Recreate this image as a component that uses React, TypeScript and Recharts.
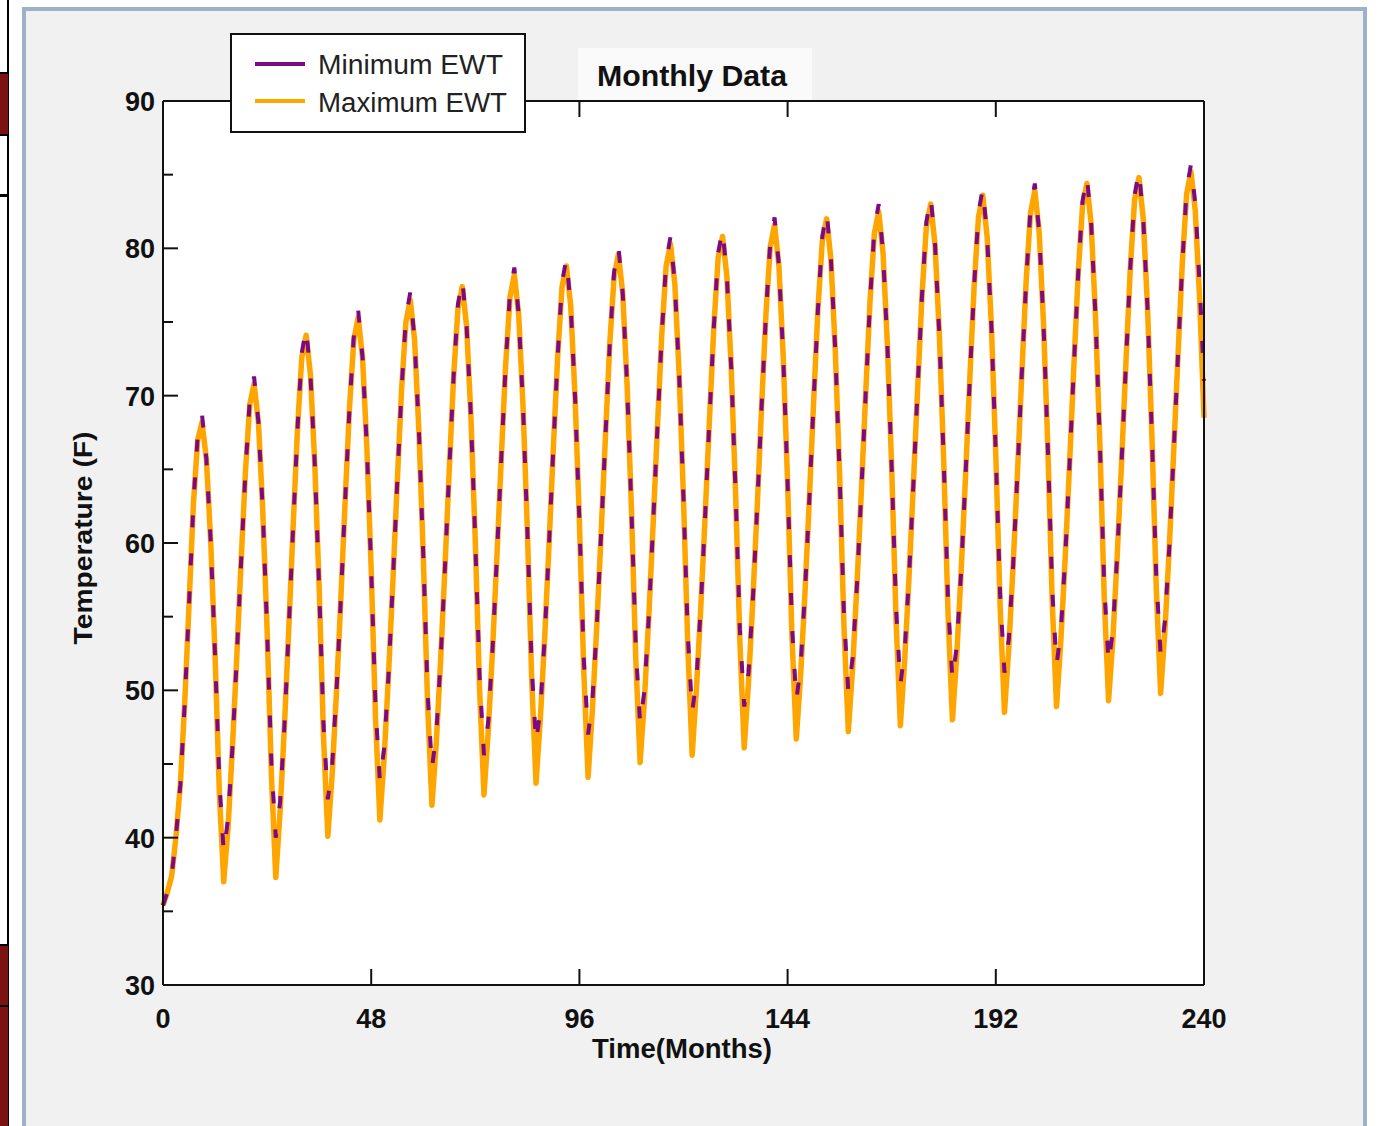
import React from "react";
import { LineChart, Line, XAxis, YAxis } from "recharts";

// monthly entering water temperature, months 0..240
const minEwt = [
  35.4, 36.3, 37.4, 40.1, 43.6, 49.1, 55.8, 62.6, 67.3, 68.7, 65.7, 60.1,
  52.4, 43.8, 39.0, 41.3, 46.1, 52.2, 58.7, 64.8, 69.7, 71.3, 68.2, 62.2,
  54.1, 45.0, 40.0, 42.4, 47.6, 54.2, 61.1, 67.7, 72.9, 74.6, 71.4, 65.3,
  57.0, 47.7, 42.6, 44.9, 49.9, 56.2, 62.9, 69.2, 74.1, 75.8, 72.6, 66.5,
  58.2, 48.9, 43.8, 46.1, 51.1, 57.4, 64.1, 70.4, 75.3, 77.0, 73.8, 67.6,
  59.2, 49.9, 44.7, 47.0, 52.0, 58.3, 65.0, 71.3, 76.2, 77.9, 74.7, 68.5,
  60.1, 50.8, 45.6, 47.9, 52.9, 59.2, 65.8, 72.1, 77.0, 78.7, 75.5, 69.3,
  60.9, 51.6, 46.4, 48.7, 53.6, 59.9, 66.5, 72.7, 77.7, 79.3, 76.1, 69.9,
  61.5, 52.2, 47.0, 49.3, 54.3, 60.6, 67.2, 73.5, 78.4, 80.1, 76.9, 70.7,
  62.3, 52.9, 47.7, 50.0, 55.0, 61.3, 67.9, 74.2, 79.1, 80.8, 77.6, 71.4,
  63.0, 53.7, 48.5, 50.8, 55.7, 61.9, 68.5, 74.7, 79.7, 81.3, 78.1, 71.9,
  63.5, 54.1, 48.9, 51.2, 56.2, 62.5, 69.2, 75.5, 80.4, 82.1, 78.8, 72.6,
  64.1, 54.5, 49.3, 51.6, 56.6, 62.9, 69.6, 75.9, 80.8, 82.5, 79.2, 73.0,
  64.6, 55.1, 49.9, 52.2, 57.2, 63.5, 70.1, 76.4, 81.3, 83.0, 79.7, 73.5,
  65.1, 55.6, 50.4, 52.7, 57.7, 64.0, 70.6, 76.9, 81.8, 83.5, 80.2, 74.0,
  65.5, 55.9, 50.7, 53.0, 58.0, 64.4, 71.1, 77.4, 82.4, 84.1, 80.8, 74.6,
  66.0, 56.5, 51.2, 53.5, 58.5, 64.8, 71.5, 77.8, 82.7, 84.4, 81.1, 74.9,
  66.4, 56.9, 51.7, 54.0, 59.0, 65.3, 72.0, 78.3, 83.2, 84.9, 81.6, 75.3,
  66.7, 57.1, 51.8, 54.1, 59.2, 65.5, 72.2, 78.6, 83.6, 85.3, 82.0, 75.8,
  67.2, 57.7, 52.4, 54.7, 59.7, 66.1, 72.7, 79.0, 84.0, 85.7, 83.0, 77.5,
  71.0,
];

const maxEwt = [
  35.4, 36.3, 37.4, 40.1, 43.6, 49.1, 55.8, 62.6, 67.0, 68.2, 65.7, 60.1,
  52.4, 43.0, 37.0, 40.7, 46.1, 52.2, 58.7, 64.8, 69.4, 70.8, 68.2, 62.2,
  54.1, 44.2, 37.3, 41.8, 47.6, 54.2, 61.1, 67.7, 72.6, 74.1, 71.4, 65.3,
  57.0, 46.9, 40.1, 44.3, 49.9, 56.2, 62.9, 69.2, 73.8, 75.3, 72.6, 66.5,
  58.2, 48.1, 41.2, 45.5, 51.1, 57.4, 64.1, 70.4, 75.0, 76.5, 73.8, 67.6,
  59.2, 49.1, 42.2, 46.4, 52.0, 58.3, 65.0, 71.3, 75.9, 77.4, 74.7, 68.5,
  60.1, 50.0, 42.9, 47.3, 52.9, 59.2, 65.8, 72.1, 76.7, 78.2, 75.5, 69.3,
  60.9, 50.8, 43.7, 48.1, 53.6, 59.9, 66.5, 72.7, 77.4, 78.8, 76.1, 69.9,
  61.5, 51.4, 44.1, 48.7, 54.3, 60.6, 67.2, 73.5, 78.1, 79.6, 76.9, 70.7,
  62.3, 52.1, 45.1, 49.4, 55.0, 61.3, 67.9, 74.2, 78.8, 80.3, 77.6, 71.4,
  63.0, 52.9, 45.6, 50.2, 55.7, 61.9, 68.5, 74.7, 79.4, 80.8, 78.1, 71.9,
  63.5, 53.3, 46.1, 50.6, 56.2, 62.5, 69.2, 75.5, 80.1, 81.6, 78.8, 72.6,
  64.1, 53.7, 46.7, 51.0, 56.6, 62.9, 69.6, 75.9, 80.5, 82.0, 79.2, 73.0,
  64.6, 54.3, 47.2, 51.6, 57.2, 63.5, 70.1, 76.4, 81.0, 82.5, 79.7, 73.5,
  65.1, 54.8, 47.6, 52.1, 57.7, 64.0, 70.6, 76.9, 81.5, 83.0, 80.2, 74.0,
  65.5, 55.1, 48.0, 52.4, 58.0, 64.4, 71.1, 77.4, 82.1, 83.6, 80.8, 74.6,
  66.0, 55.7, 48.5, 52.9, 58.5, 64.8, 71.5, 77.8, 82.4, 83.9, 81.1, 74.9,
  66.4, 56.1, 48.9, 53.4, 59.0, 65.3, 72.0, 78.3, 82.9, 84.4, 81.6, 75.3,
  66.7, 56.3, 49.3, 53.5, 59.2, 65.5, 72.2, 78.6, 83.3, 84.8, 82.0, 75.8,
  67.2, 56.9, 49.8, 54.1, 59.7, 66.1, 72.7, 79.0, 83.7, 85.2, 82.5, 76.5,
  68.5,
];

const xTicks = [0, 48, 96, 144, 192, 240];
const yTicks = [30, 35, 40, 45, 50, 55, 60, 65, 70, 75, 80, 85, 90];

const data = minEwt.map((v, i) => ({ month: i, min: v, max: maxEwt[i] }));

const FONT = "'Liberation Sans', Arial, sans-serif";
const INK = "#111";
const PURPLE = "#7d0a85";
const ORANGE = "#ffa500";

function LeftTick(props: any) {
  const { x, y, payload } = props;
  const major = payload.value % 10 === 0;
  return (
    <g>
      <line x1={x} y1={y} x2={x + (major ? 15 : 10)} y2={y} stroke={INK} strokeWidth={2} />
      {major && (
        <text x={x - 8} y={y + 10} textAnchor="end" fontFamily={FONT} fontWeight="bold" fontSize={27} fill={INK}>
          {payload.value}
        </text>
      )}
    </g>
  );
}

function RightTick(props: any) {
  const { x, y, payload } = props;
  const major = payload.value % 10 === 0;
  return <line x1={x} y1={y} x2={x - (major ? 15 : 10)} y2={y} stroke={INK} strokeWidth={2} />;
}

function BottomTick(props: any) {
  const { x, y, payload } = props;
  return (
    <g>
      <line x1={x} y1={y} x2={x} y2={y - 16} stroke={INK} strokeWidth={2} />
      <text x={x} y={y + 43} textAnchor="middle" fontFamily={FONT} fontWeight="bold" fontSize={27} fill={INK}>
        {payload.value}
      </text>
    </g>
  );
}

function TopTick(props: any) {
  const { x, y } = props;
  return <line x1={x} y1={y} x2={x} y2={y + 16} stroke={INK} strokeWidth={2} />;
}

function Frame() {
  return (
    <>
      <div style={{ position: "absolute", left: 0, top: 0, width: 9, height: 1126, background: "#fff", borderRight: "2px solid #000", boxSizing: "border-box" }} />
      <div style={{ position: "absolute", left: 0, top: 72, width: 8, height: 64, background: "#7c1212", borderTop: "2px solid #000", borderBottom: "2px solid #000", boxSizing: "border-box" }} />
      <div style={{ position: "absolute", left: 0, top: 194, width: 8, height: 3, background: "#000" }} />
      <div style={{ position: "absolute", left: 0, top: 944, width: 8, height: 182, background: "#7c1212", borderTop: "2px solid #000", boxSizing: "border-box" }} />
      <div style={{ position: "absolute", left: 0, top: 1005, width: 8, height: 2, background: "#000" }} />
      <div
        style={{
          position: "absolute",
          left: 22,
          top: 7,
          width: 1345,
          height: 1119,
          background: "#f1f1f1",
          borderTop: "4px solid #9cb2cb",
          borderLeft: "4px solid #9cb2cb",
          borderRight: "4px solid #9cb2cb",
          boxSizing: "border-box",
        }}
      />
    </>
  );
}

function Overlay() {
  return (
    <svg width={1383} height={1126} style={{ position: "absolute", left: 0, top: 0, pointerEvents: "none" }}>
      <rect x={578} y={48} width={234} height={52} fill="#fafafa" />
      <text x={597} y={86} textLength={190} lengthAdjust="spacingAndGlyphs" fontFamily={FONT} fontWeight="bold" fontSize={29} fill={INK}>
        Monthly Data
      </text>

      <rect x={231} y={34} width={294} height={98} fill="#fff" stroke={INK} strokeWidth={2} />
      <line x1={255} y1={64} x2={305} y2={64} stroke={PURPLE} strokeWidth={4} />
      <text x={318} y={74} textLength={185} lengthAdjust="spacingAndGlyphs" fontFamily={FONT} fontSize={27} fill="#222">
        Minimum EWT
      </text>
      <line x1={255} y1={101} x2={305} y2={101} stroke={ORANGE} strokeWidth={4} />
      <text x={318} y={112} textLength={189} lengthAdjust="spacingAndGlyphs" fontFamily={FONT} fontSize={27} fill="#222">
        Maximum EWT
      </text>

      <text x={682} y={1058} textAnchor="middle" textLength={180} lengthAdjust="spacingAndGlyphs" fontFamily={FONT} fontWeight="bold" fontSize={27} fill={INK}>
        Time(Months)
      </text>
      <text
        transform="translate(92,538) rotate(-90)"
        textAnchor="middle"
        textLength={213}
        lengthAdjust="spacingAndGlyphs"
        fontFamily={FONT}
        fontWeight="bold"
        fontSize={26}
        fill={INK}
      >
        Temperature (F)
      </text>
    </svg>
  );
}

export default function App() {
  return (
    <div style={{ position: "absolute", left: 0, top: 0, width: 1383, height: 1126, overflow: "hidden", background: "#fff" }}>
      <Frame />
      <div style={{ position: "absolute", left: 163, top: 101, width: 1041, height: 884, background: "#fff" }} />
      <div style={{ position: "absolute", left: 0, top: 0 }}>
        <LineChart width={1383} height={1126} data={data} margin={{ top: 91, right: 169, bottom: 81, left: 83 }}>
          <XAxis
            dataKey="month"
            type="number"
            domain={[0, 240]}
            ticks={xTicks}
            interval={0}
            height={60}
            tickSize={0}
            tickMargin={0}
            axisLine={{ stroke: INK, strokeWidth: 2 }}
            tickLine={false}
            tick={<BottomTick />}
          />
          <XAxis
            xAxisId="top"
            orientation="top"
            dataKey="month"
            type="number"
            domain={[0, 240]}
            ticks={xTicks}
            interval={0}
            height={10}
            tickSize={0}
            tickMargin={0}
            axisLine={{ stroke: INK, strokeWidth: 2 }}
            tickLine={false}
            tick={<TopTick />}
          />
          <YAxis
            type="number"
            domain={[30, 90]}
            ticks={yTicks}
            interval={0}
            width={80}
            tickSize={0}
            tickMargin={0}
            axisLine={{ stroke: INK, strokeWidth: 2 }}
            tickLine={false}
            tick={<LeftTick />}
          />
          <YAxis
            yAxisId="right"
            orientation="right"
            type="number"
            domain={[30, 90]}
            ticks={yTicks}
            interval={0}
            width={10}
            tickSize={0}
            tickMargin={0}
            axisLine={{ stroke: INK, strokeWidth: 2 }}
            tickLine={false}
            tick={<RightTick />}
          />
          <Line
            type="linear"
            dataKey="max"
            name="Maximum EWT"
            stroke={ORANGE}
            strokeWidth={5.5}
            strokeLinejoin="round"
            dot={false}
            isAnimationActive={false}
          />
          <Line
            type="linear"
            dataKey="min"
            name="Minimum EWT"
            stroke={PURPLE}
            strokeWidth={4}
            strokeDasharray="12 26"
            dot={false}
            isAnimationActive={false}
          />
        </LineChart>
      </div>
      <Overlay />
    </div>
  );
}
